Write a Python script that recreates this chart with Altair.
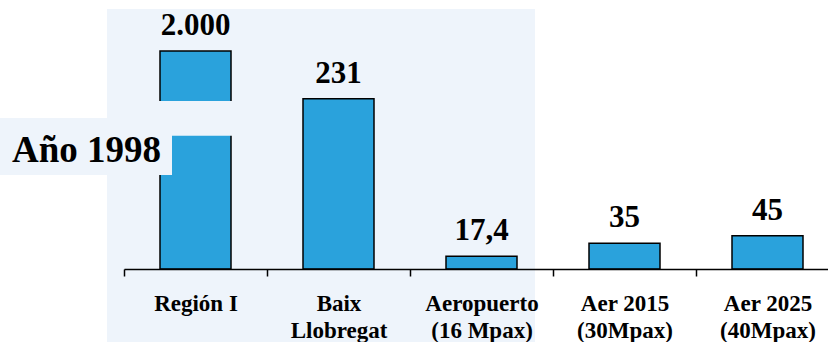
import altair as alt
import pandas as pd

# Passengers / demand by zone (1998) and airport scenarios
categories = [
    "Región I",
    "Baix|Llobregat",
    "Aeropuerto|(16 Mpax)",
    "Aer 2015|(30Mpax)",
    "Aer 2025|(40Mpax)",
]
values = [2000, 231, 17.4, 35, 45]

# y range kept on the chart; larger values are clamped and the bar is drawn broken
y_max = 296
break_low = 181
break_high = 228

FONT = "Liberation Serif"
BAR_BLUE = "#2aa2dc"
TINT = "#eef4fb"


def es_number(v):
    """Spanish number format: '.' for thousands, ',' for decimals."""
    s = f"{v:,.1f}" if v % 1 else f"{v:,.0f}"
    return s.replace(",", "#").replace(".", ",").replace("#", ".")


bars_df = pd.DataFrame({
    "cat": categories,
    "value": values,
    "label": [es_number(v) for v in values],
})
break_df = pd.DataFrame({"cat": [categories[0]], "lo": [break_low], "hi": [break_high]})
one = pd.DataFrame({"k": [0]})

x_enc = alt.X(
    "cat:N",
    sort=categories,
    scale=alt.Scale(range=[0, 715], paddingInner=0, paddingOuter=0),
    axis=alt.Axis(
        title=None,
        labelExpr="split(datum.label, '|')",
        labelAngle=0,
        labelLimit=0,
        labelFont=FONT,
        labelFontSize=23,
        labelFontWeight="bold",
        labelColor="black",
        labelLineHeight=27,
        labelPadding=16,
        tickBand="extent",
        tickSize=7,
        tickWidth=1.5,
        tickColor="black",
        domainColor="black",
        domainWidth=1.5,
        grid=False,
        zindex=1,
    ),
)
y_scale = alt.Scale(domain=[0, y_max], clamp=True)

# shaded panel behind the first three categories
tint = alt.Chart(one).mark_rect(color=TINT).encode(
    x=alt.value(-17), x2=alt.value(411), y=alt.value(-42), y2=alt.value(291)
)

bars = alt.Chart(bars_df).mark_bar(
    size=71, color=BAR_BLUE, stroke="black", strokeWidth=1.5
).encode(
    x=x_enc,
    y=alt.Y("value:Q", scale=y_scale, axis=None),
)

# gap that marks the broken bar
gap = alt.Chart(break_df).mark_bar(size=78, color=TINT).encode(
    x=alt.X("cat:N", sort=categories),
    y=alt.Y("lo:Q", scale=y_scale),
    y2="hi:Q",
)

# box behind the year caption
year_box = alt.Chart(one).mark_rect(color=TINT).encode(
    x=alt.value(-124), x2=alt.value(48), y=alt.value(67), y2=alt.value(124)
)

year_text = alt.Chart(one).mark_text(
    text="Año 1998", font=FONT, fontSize=37, fontWeight="bold",
    align="left", baseline="alphabetic", color="black",
).encode(x=alt.value(-112), y=alt.value(111))

value_text = alt.Chart(bars_df).mark_text(
    font=FONT, fontSize=31, fontWeight="bold", baseline="alphabetic",
    dy=-16, color="black",
).encode(
    x=alt.X("cat:N", sort=categories),
    y=alt.Y("value:Q", scale=y_scale),
    text="label:N",
)

chart = (
    alt.layer(tint, bars, gap, year_box, year_text, value_text)
    .properties(
        width=704,
        height=218,
        autosize=alt.AutoSizeParams(type="none"),
        padding={"left": 124, "top": 51, "right": 0, "bottom": 73},
        background="white",
    )
    .configure_view(stroke=None)
)

chart.save("out.html", embed_options={"renderer": "svg", "actions": False})
